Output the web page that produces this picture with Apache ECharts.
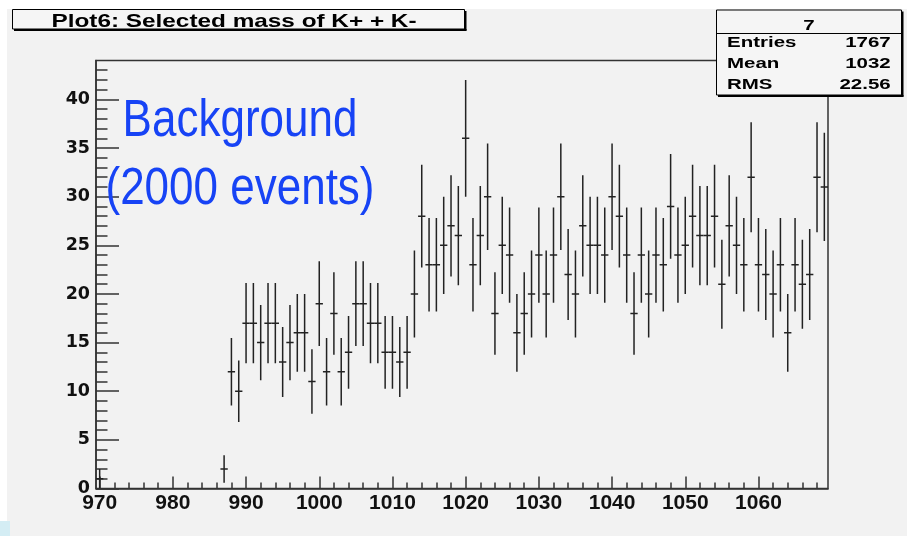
<!DOCTYPE html>
<html>
<head>
<meta charset="utf-8">
<script src="https://cdn.jsdelivr.net/npm/echarts@6/dist/echarts.min.js"></script>
<style>
  html, body { margin: 0; padding: 0; background: #fff; }
  #main { width: 907px; height: 536px; }
</style>
</head>
<body>
<div id="main"></div>
<script>
(function () {

	// histogram: 100 bins of width 1, first bin centred on 970
	var firstBin = 970;
	var counts = [
		1, 0, 0, 0, 0, 0, 0, 0, 0, 0,          // 970-979
		0, 0, 0, 0, 0, 0, 0, 2, 12, 10,        // 980-989
		17, 17, 15, 17, 17, 13, 15, 16, 16, 11, // 990-999
		19, 12, 18, 12, 14, 19, 19, 17, 17, 14, // 1000-1009
		14, 13, 14, 20, 28, 23, 23, 25, 27, 26, // 1010-1019
		36, 23, 26, 30, 18, 25, 24, 16, 18, 20, // 1020-1029
		24, 20, 24, 30, 22, 20, 27, 25, 25, 24, // 1030-1039
		30, 28, 24, 18, 24, 20, 24, 23, 29, 24, // 1040-1049
		25, 28, 26, 26, 28, 21, 27, 25, 23, 32, // 1050-1059
		23, 22, 20, 23, 16, 23, 21, 22, 32, 31  // 1060-1069
	];

	// tick positions
	var xMajor = [970, 980, 990, 1000, 1010, 1020, 1030, 1040, 1050, 1060];
	var xMinor = [972, 974, 976, 978, 982, 984, 986, 988, 992, 994, 996, 998,
		1002, 1004, 1006, 1008, 1012, 1014, 1016, 1018, 1022, 1024, 1026, 1028,
		1032, 1034, 1036, 1038, 1042, 1044, 1046, 1048, 1052, 1054, 1056, 1058,
		1062, 1064, 1066, 1068];
	var yMajor = [0, 5, 10, 15, 20, 25, 30, 35, 40];
	var yMinor = [1, 2, 3, 4, 6, 7, 8, 9, 11, 12, 13, 14, 16, 17, 18, 19,
		21, 22, 23, 24, 26, 27, 28, 29, 31, 32, 33, 34, 36, 37, 38, 39, 41, 42, 43];

	// stats box
	var statNames = ["Entries", "Mean", "RMS"];
	var statValues = ["1767", "1032", "22.56"];

	var ink = "#222";
	var frame = "#333";

	// points with poisson errors, empty bins are not drawn
	var data = [];
	for (var i = 0; i < counts.length; i++) {
		if (counts[i] > 0) {
			data.push([firstBin + i, counts[i], Math.sqrt(counts[i])]);
		}
	}

	function rootText(str, x, y, size, align, sx) {
		return {
			type: "text",
			x: x, y: y,
			scaleX: sx, scaleY: 1,
			z: 20,
			style: {
				text: str,
				x: 0, y: 0,
				textAlign: align,
				textVerticalAlign: "middle",
				font: "bold " + size + "px 'Liberation Sans', Arial, sans-serif",
				fill: "#000"
			}
		};
	}

	var grid = { left: 96, top: 60.5, right: 79, bottom: 47.5 };

	var option = {
		backgroundColor: "#f2f2f2",
		animation: false,
		grid: [
			{
				left: grid.left, top: grid.top, right: grid.right, bottom: grid.bottom,
				show: true, borderColor: frame, borderWidth: 1.5,
				backgroundColor: "transparent"
			},
			{ left: grid.left, top: grid.top, right: grid.right, bottom: grid.bottom }
		],
		xAxis: [
			{
				type: "value", gridIndex: 0, min: 969.5, max: 1069.5,
				axisLine: { show: true, lineStyle: { color: frame, width: 1.5 } },
				axisTick: { inside: true, length: 12, customValues: xMajor,
					lineStyle: { color: frame, width: 1.5 } },
				axisLabel: {
					customValues: xMajor, margin: 4,
					formatter: function (v) { return String(v); },
					fontFamily: "Liberation Sans", fontWeight: "bold", fontSize: 21,
					color: "#111"
				},
				splitLine: { show: false }
			},
			{
				type: "value", gridIndex: 1, min: 969.5, max: 1069.5,
				axisLine: { show: false },
				axisTick: { inside: true, length: 6, customValues: xMinor,
					lineStyle: { color: frame, width: 1.5 } },
				axisLabel: { show: false },
				splitLine: { show: false }
			}
		],
		yAxis: [
			{
				type: "value", gridIndex: 0, min: 0, max: 44,
				axisLine: { show: true, lineStyle: { color: frame, width: 1.5 } },
				axisTick: { inside: true, length: 23, customValues: yMajor,
					lineStyle: { color: frame, width: 1.5 } },
				axisLabel: {
					customValues: yMajor, margin: 6,
					fontFamily: "DejaVu Sans", fontWeight: "bold", fontSize: 17.5,
					color: "#111"
				},
				splitLine: { show: false }
			},
			{
				type: "value", gridIndex: 1, min: 0, max: 44,
				axisLine: { show: false },
				axisTick: { inside: true, length: 11.5, customValues: yMinor,
					lineStyle: { color: frame, width: 1.5 } },
				axisLabel: { show: false },
				splitLine: { show: false }
			}
		],
		series: [
			{
				type: "custom",
				xAxisIndex: 0, yAxisIndex: 0,
				clip: true,
				data: data,
				renderItem: function (params, api) {
					var x = api.value(0), y = api.value(1), e = api.value(2);
					var c = api.coord([x, y]);
					var hi = api.coord([x, y + e]);
					var lo = api.coord([x, Math.max(y - e, 0)]);
					var l = api.coord([x - 0.5, y]);
					var r = api.coord([x + 0.5, y]);
					return {
						type: "group",
						children: [
							{ type: "line", shape: { x1: c[0], y1: hi[1], x2: c[0], y2: lo[1] },
								style: { stroke: ink, lineWidth: 1.5 } },
							{ type: "line", shape: { x1: l[0], y1: c[1], x2: r[0], y2: c[1] },
								style: { stroke: ink, lineWidth: 1.5 } }
						]
					};
				}
			}
		],
		graphic: [
			// white margin round the canvas
			{ type: "rect", shape: { x: 0, y: 0, width: 907, height: 9 }, style: { fill: "#fff" }, z: 10 },
			{ type: "rect", shape: { x: 0, y: 0, width: 7, height: 536 }, style: { fill: "#fff" }, z: 10 },
			{ type: "rect", shape: { x: 0, y: 521, width: 10, height: 15 }, style: { fill: "#d4edf4" }, z: 11 },

			// title box
			{ type: "rect", shape: { x: 12.5, y: 9.5, width: 452, height: 19.5 },
				style: { fill: "#f5f5f5", stroke: "#000", lineWidth: 1 }, z: 12 },
			{ type: "line", shape: { x1: 465.5, y1: 11, x2: 465.5, y2: 30.5 }, style: { stroke: "#000", lineWidth: 2 }, z: 12 },
			{ type: "line", shape: { x1: 14, y1: 30, x2: 466.5, y2: 30 }, style: { stroke: "#000", lineWidth: 2 }, z: 12 },
			rootText("Plot6: Selected mass of K+ + K-", 234, 21.7, 18.5, "center", 1.315),

			// stats box
			{ type: "rect", shape: { x: 716.5, y: 10, width: 185, height: 85 },
				style: { fill: "#f5f5f5", stroke: "#000", lineWidth: 1 }, z: 12 },
			{ type: "line", shape: { x1: 902.5, y1: 11.5, x2: 902.5, y2: 96.5 }, style: { stroke: "#000", lineWidth: 2 }, z: 12 },
			{ type: "line", shape: { x1: 718, y1: 96, x2: 903.5, y2: 96 }, style: { stroke: "#000", lineWidth: 2 }, z: 12 },
			{ type: "line", shape: { x1: 716.5, y1: 33.5, x2: 901.5, y2: 33.5 }, style: { stroke: "#000", lineWidth: 1 }, z: 12 },
			rootText("7", 809, 25.3, 15.4, "center", 1.33),
			rootText(statNames[0], 727, 42.8, 15.4, "left", 1.33),
			rootText(statNames[1], 727, 63.8, 15.4, "left", 1.33),
			rootText(statNames[2], 727, 84.8, 15.4, "left", 1.33),
			rootText(statValues[0], 890.7, 42.8, 15.4, "right", 1.33),
			rootText(statValues[1], 890.7, 63.8, 15.4, "right", 1.33),
			rootText(statValues[2], 890.7, 84.8, 15.4, "right", 1.33),

			// blue note
			{ type: "text", x: 240, y: 122, scaleY: 1.17, z: 20,
				style: { text: "Background", x: 0, y: 0, textAlign: "center", textVerticalAlign: "middle",
					font: "44px 'Liberation Sans', Arial, sans-serif", fill: "#1743f5" } },
			{ type: "text", x: 240, y: 190, scaleY: 1.17, z: 20,
				style: { text: "(2000 events)", x: 0, y: 0, textAlign: "center", textVerticalAlign: "middle",
					font: "44px 'Liberation Sans', Arial, sans-serif", fill: "#1743f5" } }
		]
	};

	var chart = echarts.init(document.getElementById("main"), null, { renderer: "canvas" });
	chart.setOption(option);

})();
</script>
</body>
</html>
